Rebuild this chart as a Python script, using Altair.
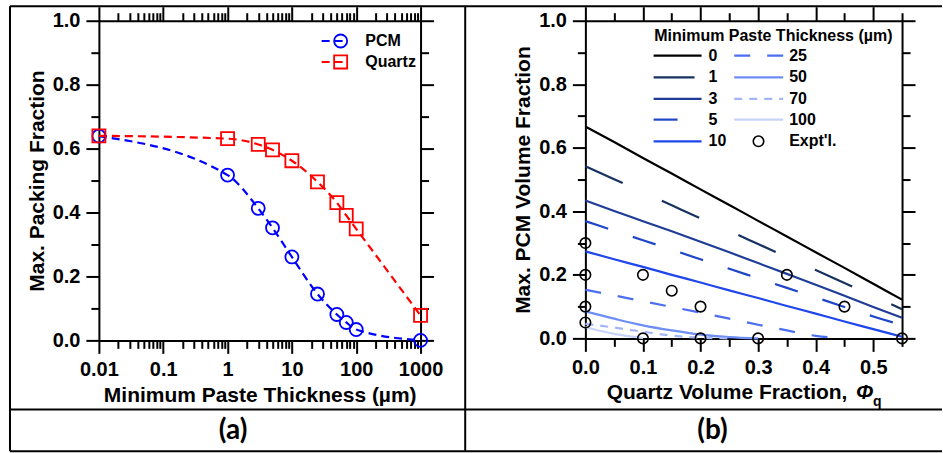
import altair as alt
import pandas as pd

# ---------------- Panel (a) data ----------------
thickness_um = [0.01, 1, 3, 5, 10, 25, 50, 70, 100, 1000]
pcm_packing = [0.639, 0.517, 0.413, 0.352, 0.261, 0.145, 0.081, 0.056, 0.034, 0.0]
quartz_packing = [0.640, 0.631, 0.613, 0.596, 0.562, 0.496, 0.431, 0.391, 0.349, 0.078]
series_a = ["PCM", "Quartz"]

# ---------------- Panel (b) data ----------------
phi_grid = [0.0, 0.05, 0.10, 0.15, 0.20, 0.25, 0.30, 0.35, 0.40, 0.45, 0.50, 0.55]
phi_fine = [0.0, 0.025, 0.05, 0.075, 0.10]
pcm_t0 = [0.667, 0.618, 0.568, 0.519, 0.469, 0.420, 0.370, 0.321, 0.271, 0.222, 0.172, 0.122]
pcm_t1 = [0.542, 0.501, 0.460, 0.419, 0.378, 0.338, 0.297, 0.256, 0.215, 0.174, 0.133, 0.092]
pcm_t3 = [0.434, 0.401, 0.369, 0.337, 0.304, 0.271, 0.237, 0.203, 0.169, 0.134, 0.099, 0.065]
pcm_t5 = [0.369, 0.339, 0.309, 0.279, 0.249, 0.219, 0.189, 0.159, 0.129, 0.099, 0.069, 0.042]
pcm_t10 = [0.274, 0.249, 0.225, 0.200, 0.176, 0.151, 0.127, 0.102, 0.078, 0.053, 0.029, 0.005]
pcm_t25 = [0.153, 0.135, 0.117, 0.099, 0.081, 0.062, 0.043, 0.025, 0.008, 0.001]
pcm_t50 = [0.085, 0.062, 0.041, 0.025, 0.012, 0.004, 0.0]
pcm_t70 = [0.046, 0.034, 0.021, 0.009, 0.002, 0.0]
pcm_t100 = [0.036, 0.024, 0.014, 0.007, 0.001]
thickness_labels = ["0", "1", "3", "5", "10", "25", "50", "70", "100"]
expt_phi = [0.0, 0.0, 0.0, 0.0, 0.10, 0.15, 0.20, 0.35, 0.45, 0.10, 0.20, 0.30, 0.55]
expt_pcm = [0.30, 0.20, 0.10, 0.05, 0.20, 0.15, 0.10, 0.20, 0.10, 0.0, 0.0, 0.0, 0.0]
expt_label = "Expt'l."

# ---------------- styles ----------------
FONT = "Liberation Sans"
colors_a = ["#0000ff", "#ff0000"]
shapes_a = ["circle", "square"]
colors_b = ["#000000", "#17325f", "#1f3d96", "#1f45c8", "#1f46ea",
            "#4b6ef2", "#6e8ef5", "#a3b5f7", "#c8d3fa"]
dashes_b = [None, [41, 43], None, [24, 26], None, [16, 17], None, [8, 7], None]

one = pd.DataFrame({"k": [0]})

AX = dict(grid=False, domainColor="black", domainWidth=2, tickColor="black", tickWidth=2,
          labelFont=FONT, labelFontSize=20, labelFontWeight="bold", labelColor="black",
          labelFlush=False, labelOverlap=False, titleFont=FONT, titleFontSize=21,
          titleFontWeight="bold", titleColor="black")


def make_axis(orient, values, size, labels=False, domain=True, fmt=None, title=None, lp=6, tp=5):
    kw = dict(AX)
    kw.update(orient=orient, values=values, tickSize=size, labels=labels, domain=domain, title=title)
    if fmt:
        kw["format"] = fmt
    if labels:
        kw.update(labelPadding=lp, titlePadding=tp)
    return alt.Axis(**kw)


def axis_layers(df, xf, yf, xs, ys, xmaj, xmin, ymaj, ymin, xfmt, yfmt, xtitle, ytitle):
    specs = [
        (make_axis("bottom", xmaj, 13, True, True, xfmt, xtitle), make_axis("left", ymaj, 13, True, True, yfmt, ytitle)),
        (make_axis("top", xmaj, 14), make_axis("right", ymaj, 13)),
        (make_axis("bottom", xmin, 8, domain=False), make_axis("left", ymin, 8, domain=False)),
        (make_axis("top", xmin, 8, domain=False), make_axis("right", ymin, 8, domain=False)),
    ]
    out = []
    for ax, ay in specs:
        out.append(alt.Chart(df).mark_point(opacity=0).encode(
            x=alt.X(xf, type="quantitative", scale=xs, axis=ax),
            y=alt.Y(yf, type="quantitative", scale=ys, axis=ay)))
    return out


def rule(x, y, x2=None, y2=None, color="black", width=2, dash=None):
    kw = dict(color=color, strokeWidth=width)
    if dash:
        kw["strokeDash"] = dash
    enc = dict(x=alt.value(x), y=alt.value(y))
    if x2 is not None:
        enc["x2"] = alt.value(x2)
    if y2 is not None:
        enc["y2"] = alt.value(y2)
    return alt.Chart(one).mark_rule(**kw).encode(**enc)


def label(x, y, text, size=16, align="left", baseline="middle", font=FONT, style="normal"):
    return alt.Chart(one).mark_text(text=text, align=align, baseline=baseline, font=font,
                                    fontSize=size, fontWeight="bold", fontStyle=style,
                                    color="black").encode(x=alt.value(x), y=alt.value(y))


# ---------------- Panel (a) ----------------
rows_a = []
for name, vals in zip(series_a, [pcm_packing, quartz_packing]):
    for t, v in zip(thickness_um, vals):
        rows_a.append({"series": name, "t": t, "f": v})
df_a = pd.DataFrame(rows_a)

xs_a = alt.Scale(type="log", domain=[0.01, 1000], nice=False)
ys_a = alt.Scale(domain=[0, 1], nice=False)

layers_a = []
for name, col, shp in zip(series_a, colors_a, shapes_a):
    d = df_a[df_a.series == name]
    layers_a.append(alt.Chart(d).mark_line(color=col, strokeDash=[8, 5], strokeWidth=2.2,
                                           interpolate="monotone").encode(
        x=alt.X("t:Q", scale=xs_a, axis=None), y=alt.Y("f:Q", scale=ys_a, axis=None)))
for name, col, shp in zip(series_a, colors_a, shapes_a):
    d = df_a[df_a.series == name]
    layers_a.append(alt.Chart(d).mark_point(color=col, shape=shp, filled=False, size=170,
                                            strokeWidth=1.8, opacity=1).encode(
        x=alt.X("t:Q", scale=xs_a, axis=None), y=alt.Y("f:Q", scale=ys_a, axis=None)))

x_major_a = [0.01, 0.1, 1, 10, 100, 1000]
x_minor_a = [m * d for d in [0.01, 0.1, 1, 10, 100] for m in range(2, 10)]
y_major = [0.0, 0.2, 0.4, 0.6, 0.8, 1.0]
y_minor = [0.1, 0.3, 0.5, 0.7, 0.9]

layers_a += axis_layers(df_a, "t", "f", xs_a, ys_a, x_major_a, x_minor_a, y_major, y_minor,
                        "~g", ".1f", "Minimum Paste Thickness (µm)", "Max. Packing Fraction")

# legend (a)
for i, (name, col, shp) in enumerate(zip(series_a, colors_a, shapes_a)):
    yy = 20.3 + 21 * i
    layers_a.append(rule(223, yy, x2=248, color=col, width=2.2, dash=[8, 5]))
    layers_a.append(alt.Chart(one).mark_point(color=col, shape=shp, filled=False, size=170,
                                              strokeWidth=1.8, opacity=1).encode(
        x=alt.value(242), y=alt.value(yy)))
    layers_a.append(label(266.7, yy, name, size=16))

# frame (drawn relative to panel (a) plot origin)
layers_a += [
    rule(-89, -14.5, x2=844),
    rule(-89, 389.3, x2=844),
    rule(-89, 431, x2=844),
    rule(-89, -14.5, y2=431),
    rule(366.7, -14.5, y2=431),
    label(134.3, 411, "(a)", size=28, align="center", font="Lato"),
]

panel_a = alt.layer(*layers_a).resolve_axis(x="independent", y="independent").properties(
    width=322, height=320)

# ---------------- Panel (b) ----------------
curves_b = [pcm_t0, pcm_t1, pcm_t3, pcm_t5, pcm_t10, pcm_t25, pcm_t50, pcm_t70, pcm_t100]
rows_b = []
for lab, vals in zip(thickness_labels, curves_b):
    xs = phi_fine if lab == "100" else phi_grid
    for p, v in zip(xs, vals):
        rows_b.append({"t": lab, "phi": p, "pcm": v})
df_b = pd.DataFrame(rows_b)
df_exp = pd.DataFrame({"phi": expt_phi, "pcm": expt_pcm})

xs_b = alt.Scale(domain=[0, 0.55], nice=False)
ys_b = alt.Scale(domain=[0, 1], nice=False)

layers_b = []
for lab, col, dash in zip(thickness_labels, colors_b, dashes_b):
    kw = dict(color=col, strokeWidth=2.2, interpolate="monotone")
    if dash:
        kw["strokeDash"] = dash
    layers_b.append(alt.Chart(df_b[df_b.t == lab]).mark_line(**kw).encode(
        x=alt.X("phi:Q", scale=xs_b, axis=None), y=alt.Y("pcm:Q", scale=ys_b, axis=None)))
layers_b.append(alt.Chart(df_exp).mark_point(color="black", shape="circle", filled=False, size=110,
                                             strokeWidth=1.6, opacity=1).encode(
    x=alt.X("phi:Q", scale=xs_b, axis=None), y=alt.Y("pcm:Q", scale=ys_b, axis=None)))

x_major_b = [0.0, 0.1, 0.2, 0.3, 0.4, 0.5]
x_minor_b = [0.05, 0.15, 0.25, 0.35, 0.45, 0.55]
layers_b += axis_layers(df_exp, "phi", "pcm", xs_b, ys_b, x_major_b, x_minor_b, y_major, y_minor,
                        ".1f", ".1f", None, "Max. PCM Volume Fraction")

# custom x title with italic Phi and subscript q
layers_b += [
    label(21.3, 379, "Quartz Volume Fraction,", size=21, baseline="alphabetic"),
    label(271, 379, "Φ", size=21, baseline="alphabetic", style="italic"),
    label(288, 386, "q", size=14, baseline="alphabetic"),
]

# legend (b)
layers_b.append(label(69, 15.7, "Minimum Paste Thickness (µm)", size=16))
row_y = [35, 56.7, 78.3, 99, 120.7]
for i, (lab, col, dash) in enumerate(zip(thickness_labels, colors_b, dashes_b)):
    c = i // 5
    r = i % 5
    x0, x1, xl = (68.3, 116.3, 123.3) if c == 0 else (149, 198, 204)
    layers_b.append(rule(x0, row_y[r], x2=x1, color=col, width=2.2, dash=dash))
    layers_b.append(label(xl, row_y[r], lab, size=16))
layers_b.append(alt.Chart(one).mark_point(color="black", shape="circle", filled=False, size=110,
                                          strokeWidth=1.6, opacity=1).encode(
    x=alt.value(173.3), y=alt.value(row_y[4])))
layers_b.append(label(204, row_y[4], expt_label, size=16))
layers_b.append(label(127.3, 411, "(b)", size=28, align="center", font="Lato"))

panel_b = alt.layer(*layers_b).resolve_axis(x="independent", y="independent").properties(
    width=317, height=318)

chart = alt.hconcat(panel_a, panel_b, spacing=165, bounds="flush").properties(
    padding={"left": 9, "top": 4.5, "right": 0, "bottom": 0},
    background="white",
).configure_view(strokeOpacity=0)

chart.save("out.html", embed_options={"renderer": "svg", "actions": False})
